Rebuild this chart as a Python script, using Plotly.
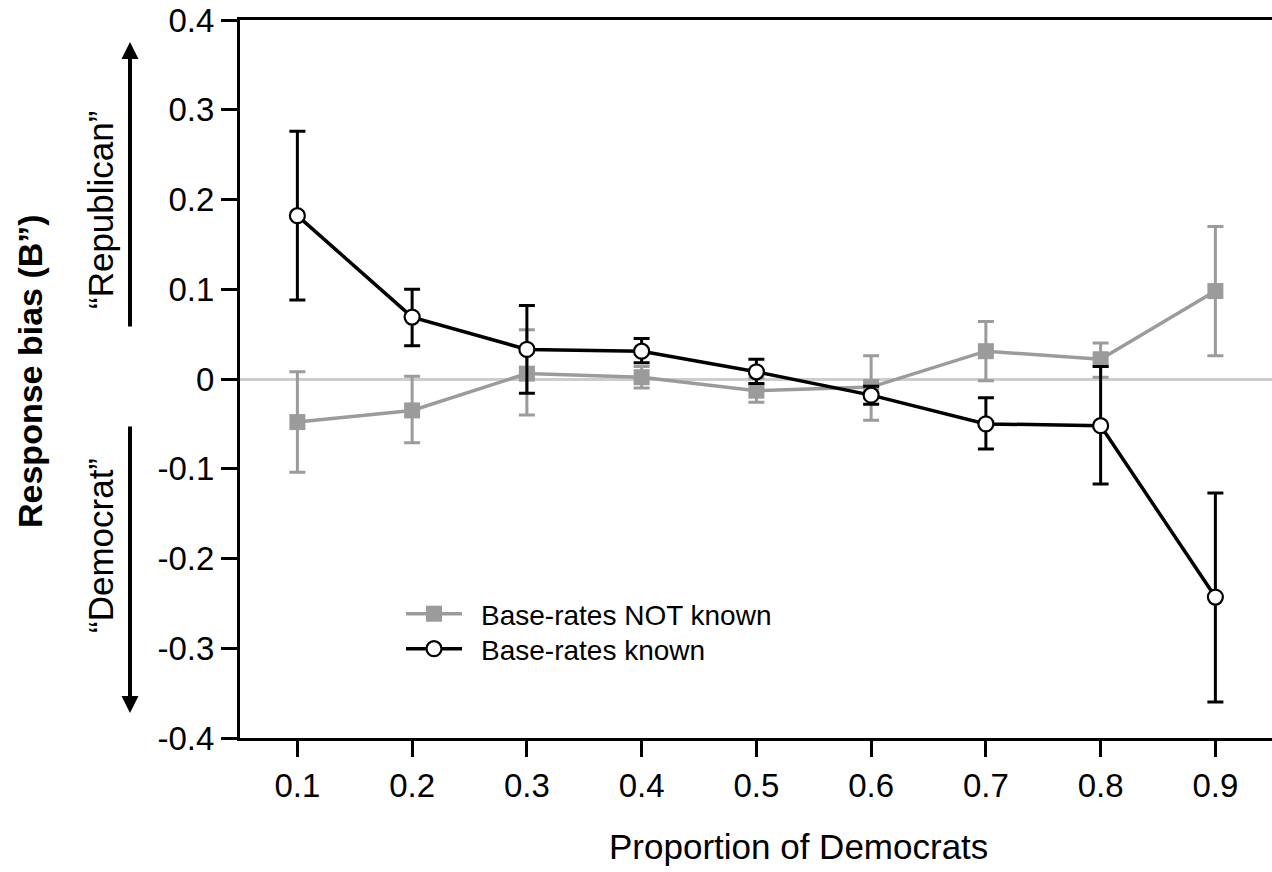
import plotly.graph_objects as go

# Proportion of Democrats shown in each block
proportions = [0.1, 0.2, 0.3, 0.4, 0.5, 0.6, 0.7, 0.8, 0.9]

# Base-rates NOT known: mean response bias and the upper/lower ends of its error bar
not_known_mean = [-0.048, -0.035, 0.006, 0.002, -0.013, -0.009, 0.031, 0.022, 0.098]
not_known_high = [0.008, 0.003, 0.055, 0.014, 0.001, 0.026, 0.064, 0.040, 0.170]
not_known_low = [-0.104, -0.071, -0.040, -0.010, -0.026, -0.046, -0.002, 0.002, 0.026]

# Base-rates known: mean response bias and the upper/lower ends of its error bar
known_mean = [0.182, 0.069, 0.033, 0.031, 0.008, -0.018, -0.050, -0.052, -0.243]
known_high = [0.276, 0.100, 0.082, 0.045, 0.022, -0.008, -0.021, 0.014, -0.127]
known_low = [0.088, 0.037, -0.016, 0.018, -0.005, -0.028, -0.078, -0.117, -0.360]

y_tick_values = [0.4, 0.3, 0.2, 0.1, 0, -0.1, -0.2, -0.3, -0.4]
y_tick_labels = ["0.4", "0.3", "0.2", "0.1", "0", "-0.1", "-0.2", "-0.3", "-0.4"]
x_tick_labels = ["0.1", "0.2", "0.3", "0.4", "0.5", "0.6", "0.7", "0.8", "0.9"]

GREY = "#9b9b9b"
FONT = "Liberation Sans, Arial, Helvetica, sans-serif"

# Figure geometry (pixels)
W, H = 1272, 872
ML, MR, MT, MB = 240, 0, 20, 134
PW, PH = W - ML - MR, H - MT - MB


def px(x):
    return (x - ML) / PW


def py(y):
    return (H - MB - y) / PH


fig = go.Figure()

fig.add_trace(go.Scatter(
    x=proportions, y=not_known_mean, mode="lines+markers",
    name="\u2002Base-rates NOT known", legend="legend",
    line=dict(color=GREY, width=3.5),
    marker=dict(symbol="square", size=16, color=GREY, line=dict(width=0)),
    error_y=dict(type="data", symmetric=False,
                 array=[h - m for h, m in zip(not_known_high, not_known_mean)],
                 arrayminus=[m - l for m, l in zip(not_known_mean, not_known_low)],
                 color=GREY, thickness=3, width=8),
))

fig.add_trace(go.Scatter(
    x=proportions, y=known_mean, mode="lines+markers",
    name="\u2002Base-rates known", legend="legend2",
    line=dict(color="black", width=3.5),
    marker=dict(symbol="circle", size=15, color="white", line=dict(color="black", width=2.2)),
    error_y=dict(type="data", symmetric=False,
                 array=[h - m for h, m in zip(known_high, known_mean)],
                 arrayminus=[m - l for m, l in zip(known_mean, known_low)],
                 color="black", thickness=3, width=8),
))

annotations = [
    # axis titles
    dict(text="Response bias (B\u201d)", x=px(30), y=py(371), xref="paper", yref="paper",
         textangle=-90, showarrow=False, font=dict(size=34, color="black", family=FONT, weight="bold"),
         xanchor="center", yanchor="middle"),
    dict(text="Proportion of Democrats", x=px(798), y=py(846), xref="paper", yref="paper",
         showarrow=False, font=dict(size=35, color="black", family=FONT),
         xanchor="center", yanchor="middle"),
    # direction labels
    dict(text="\u201cRepublican\u201d", x=px(100), y=py(210), xref="paper", yref="paper",
         textangle=-90, showarrow=False, font=dict(size=35, color="black", family=FONT),
         xanchor="center", yanchor="middle"),
    dict(text="\u201cDemocrat\u201d", x=px(100), y=py(546), xref="paper", yref="paper",
         textangle=-90, showarrow=False, font=dict(size=35, color="black", family=FONT),
         xanchor="center", yanchor="middle"),
    # direction arrows
    dict(text="", x=px(130), y=py(42), xref="paper", yref="paper",
         ax=0, ay=286, showarrow=True, arrowhead=2, arrowsize=0.85, arrowwidth=4,
         arrowcolor="black", standoff=0),
    dict(text="", x=px(130), y=py(713), xref="paper", yref="paper",
         ax=0, ay=-288, showarrow=True, arrowhead=2, arrowsize=0.85, arrowwidth=4,
         arrowcolor="black", standoff=0),
]

legend_style = dict(xanchor="left", yanchor="top", bgcolor="rgba(0,0,0,0)",
                    font=dict(size=28, family=FONT, color="black"), itemwidth=56)

fig.update_layout(
    width=W, height=H,
    margin=dict(l=ML, r=MR, t=MT, b=MB),
    paper_bgcolor="white", plot_bgcolor="white",
    font=dict(family=FONT, size=33, color="black"),
    showlegend=True,
    legend=dict(x=px(401), y=py(589), **legend_style),
    legend2=dict(x=px(401), y=py(624), **legend_style),
    annotations=annotations,
)

fig.update_xaxes(
    range=[0.05, 0.05 + PW / 1147.5],
    tickvals=proportions, ticktext=x_tick_labels,
    ticks="outside", ticklen=16, tickwidth=3, tickcolor="black",
    showline=True, linecolor="black", linewidth=3, mirror=True,
    showgrid=False, zeroline=False,
    tickfont=dict(size=33, family=FONT, color="black"),
)

fig.update_yaxes(
    range=[-0.4, 0.4],
    tickvals=y_tick_values, ticktext=y_tick_labels,
    ticks="outside", ticklen=16, tickwidth=3, tickcolor="black",
    showline=True, linecolor="black", linewidth=3, mirror=False,
    showgrid=False, zeroline=True, zerolinecolor="#cdcdcd", zerolinewidth=3,
    tickfont=dict(size=33, family=FONT, color="black"),
)

fig.write_html("out.html")
